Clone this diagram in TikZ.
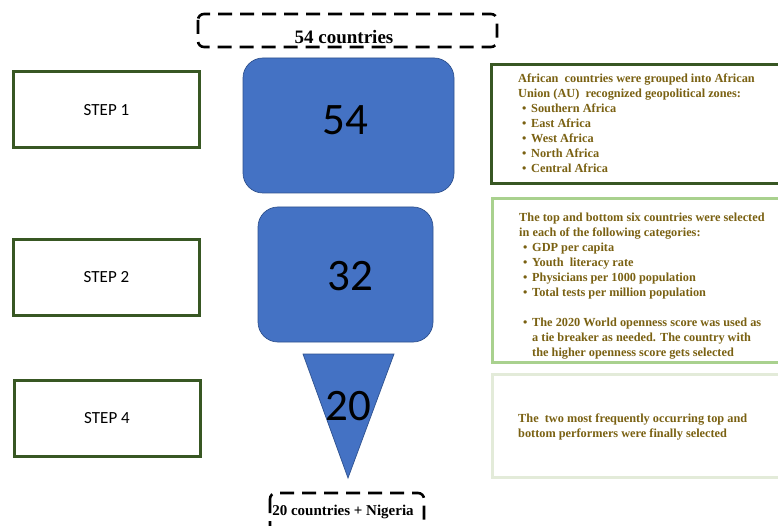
\documentclass[tikz,border=0pt]{standalone}
\usepackage{fontspec}
\setmainfont{Liberation Serif}
\newfontfamily\calib{Carlito}
\definecolor{stepgreen}{HTML}{385723}
\definecolor{blu}{HTML}{4472C4}
\definecolor{bluedge}{HTML}{2F528F}
\definecolor{olivetxt}{HTML}{7A6112}
\definecolor{lightgreen}{HTML}{A9D18E}
\definecolor{palegreen}{HTML}{E3EBD9}
\begin{document}
\begin{tikzpicture}[x=1pt,y=-1pt,
  stepbox/.style={draw=stepgreen, line width=3pt, minimum width=186pt, minimum height=76pt, inner sep=0pt,
    font=\calib\fontsize{17}{19}\selectfont},
  bluebox/.style={fill=blu, draw=bluedge, line width=0.7pt, rounded corners=20pt, inner sep=0pt},
  bignum/.style={font=\calib\fontsize{45}{50}\selectfont, inner sep=0pt},
  dashbox/.style={draw, dashed, dash pattern=on 14pt off 8pt, line width=2.6pt, rounded corners=6pt},
  dashtxt/.style={font=\bfseries, inner sep=0pt},
  infobox/.style={line width=3pt},
  infotxt/.style={text=olivetxt, font=\bfseries\fontsize{12.3}{15}\selectfont, align=left, inner sep=0pt, anchor=north west}
]
\clip (0,0) rectangle (778,526);
\fill[white] (0,0) rectangle (778,526);

% top dashed box
\draw[dashbox] (198,14) rectangle (497,47);
\node[dashtxt, font=\bfseries\fontsize{19}{22}\selectfont] (top) at (344,37) {54 countries};

% step boxes
\node[stepbox] (s1) at (106.5,110) {STEP 1};
\node[stepbox] (s2) at (106.5,277.5) {STEP 2};
\node[stepbox] (s4) at (107,418.5) {STEP 4};

% blue shapes
\node[bluebox, minimum width=211pt, minimum height=135pt] (b1) at (348.5,125.5) {};
\node[bignum] (n1) at (345,120) {54};
\node[bluebox, minimum width=175pt, minimum height=135pt] (b2) at (345.5,274.5) {};
\node[bignum] (n2) at (350,276) {32};
\fill[blu, draw=bluedge, line width=0.7pt] (303,354) -- (394,354) -- (348,478) -- cycle;
\node[bignum] (n3) at (348,406) {20};

% bottom dashed box
\draw[dashbox] (270,493) rectangle (424,545);
\node[dashtxt, font=\bfseries\fontsize{15}{18}\selectfont] (bot) at (343,512) {20 countries + Nigeria};

% info boxes
\draw[infobox, draw=stepgreen] (491,65) rectangle (800,184);
\node[infotxt] (t1) at (518,74) {African\ \ countries were grouped into African\\
Union (AU)\ \ recognized geopolitical zones:\\
\hspace*{4pt}\makebox[9pt][l]{•}Southern Africa\\
\hspace*{4pt}\makebox[9pt][l]{•}East Africa\\
\hspace*{4pt}\makebox[9pt][l]{•}West Africa\\
\hspace*{4pt}\makebox[9pt][l]{•}North Africa\\
\hspace*{4pt}\makebox[9pt][l]{•}Central Africa};

\draw[infobox, draw=lightgreen] (492,199) rectangle (800,362);
\node[infotxt] (t2) at (519,213) {The top and bottom six countries were selected\\
in each of the following categories:\\
\hspace*{4pt}\makebox[9pt][l]{•}GDP per capita\\
\hspace*{4pt}\makebox[9pt][l]{•}Youth\ \ literacy rate\\
\hspace*{4pt}\makebox[9pt][l]{•}Physicians per 1000 population\\
\hspace*{4pt}\makebox[9pt][l]{•}Total tests per million population\\[15pt]
\hspace*{4pt}\makebox[9pt][l]{•}The 2020 World openness score was used as\\
\hspace*{13pt}a tie breaker as needed. The country with\\
\hspace*{13pt}the higher openness score gets selected};

\draw[infobox, draw=palegreen] (492,374) rectangle (800,477);
\node[infotxt] (t3) at (518,414) {The\ \ two most frequently occurring top and\\
bottom performers were finally selected};
\end{tikzpicture}
\end{document}
